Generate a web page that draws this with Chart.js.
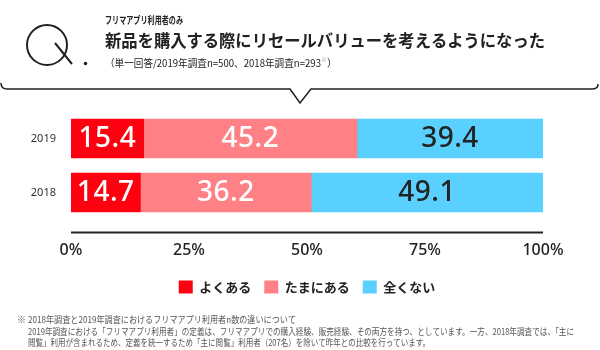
<!DOCTYPE html>
<html lang="ja">
<head>
<meta charset="utf-8">
<script src="https://cdn.jsdelivr.net/npm/chart.js@4.4.1/dist/chart.umd.min.js"></script>
<style>
    html, body { margin: 0; padding: 0; background: #fff; }
    #wrap { width: 600px; height: 350px; position: relative; }
</style>
</head>
<body>
<div id="wrap"><canvas id="resaleChart"></canvas></div>
<script>
const years = ['2019', '2018'];
const often = [15.4, 14.7];
const sometimes = [45.2, 36.2];
const never = [39.4, 49.1];
const seriesNames = ['よくある', 'たまにある', '全くない'];
const xTicks = [0, 25, 50, 75, 100];

const JP = '"Noto Sans CJK JP", "Noto Sans", sans-serif';
const NUM = '"Noto Sans", "DejaVu Sans", sans-serif';
const INK = '#222';

const footnotes = [
    '2018年調査と2019年調査におけるフリマアプリ利用者n数の違いについて',
    '2019年調査における「フリマアプリ利用者」の定義は、フリマアプリでの購入経験、販売経験、その両方を持つ、としています。一方、2018年調査では、「主に',
    '閲覧」利用が含まれるため、定義を統一するため「主に閲覧」利用者（207名）を除いて昨年との比較を行っています。',
];

// header bubble, Q mark, footnote text
const decorPlugin = {
    id: 'decor',
    beforeDraw(chart) {
        const ctx = chart.ctx;
        ctx.save();
        ctx.strokeStyle = INK;
        ctx.fillStyle = INK;

        // Q.
        ctx.lineWidth = 2;
        ctx.beginPath();
        ctx.arc(47, 45, 20, 0, Math.PI * 2);
        ctx.stroke();
        ctx.beginPath();
        ctx.moveTo(55, 43);
        ctx.lineTo(72, 64);
        ctx.stroke();
        ctx.beginPath();
        ctx.arc(85.5, 63.5, 1.8, 0, Math.PI * 2);
        ctx.fill();

        // speech bubble bottom edge
        ctx.lineWidth = 1.5;
        ctx.beginPath();
        ctx.moveTo(1, 83);
        ctx.quadraticCurveTo(1, 89, 7, 89);
        ctx.lineTo(290, 89);
        ctx.lineTo(300, 103);
        ctx.lineTo(311, 89);
        ctx.lineTo(592, 89);
        ctx.quadraticCurveTo(598, 89, 598, 84);
        ctx.stroke();

        ctx.textBaseline = 'middle';
        ctx.textAlign = 'left';
        ctx.font = 'bold 10px ' + JP;
        ctx.fillText('フリマアプリ利用者のみ', 105, 20, 78);
        ctx.font = 'bold 17px ' + JP;
        ctx.fillText('新品を購入する際にリセールバリューを考えるようになった', 105, 41, 440);
        ctx.font = '10px ' + JP;
        const sub = '（単一回答/2019年調査n=500、2018年調査n=293';
        ctx.fillText(sub, 105, 63, 216);
        const subW = Math.min(ctx.measureText(sub).width, 216);
        ctx.fillStyle = '#999';
        ctx.font = '6px ' + JP;
        ctx.fillText('※', 105 + subW, 60);
        ctx.fillStyle = INK;
        ctx.font = '10px ' + JP;
        ctx.fillText('）', 105 + subW + 6, 63);

        // footnote
        ctx.fillStyle = '#555';
        ctx.font = '9px ' + JP;
        ctx.fillText('※', 17, 320);
        ctx.fillText(footnotes[0], 28, 320, 268);
        ctx.fillText(footnotes[1], 28, 332, 546);
        ctx.fillText(footnotes[2], 28, 343, 402);
        ctx.restore();
    },
    afterDraw(chart) {
        // axis rule below the bars
        const {ctx, chartArea} = chart;
        const y = chart.scales.x.top + 13;
        ctx.save();
        ctx.strokeStyle = INK;
        ctx.lineWidth = 2;
        ctx.beginPath();
        ctx.moveTo(chartArea.left, y);
        ctx.lineTo(chartArea.right, y);
        ctx.stroke();
        ctx.restore();
    },
};

// value labels inside each segment
const valueLabels = {
    id: 'valueLabels',
    afterDatasetsDraw(chart) {
        const ctx = chart.ctx;
        ctx.save();
        ctx.font = '500 28px ' + NUM;
        ctx.textAlign = 'center';
        ctx.textBaseline = 'middle';
        if ('letterSpacing' in ctx) ctx.letterSpacing = '0.5px';
        chart.data.datasets.forEach((ds, i) => {
            chart.getDatasetMeta(i).data.forEach((bar, j) => {
                ctx.fillStyle = i === 2 ? INK : '#fff';
                ctx.fillText(ds.data[j].toFixed(1), (bar.x + bar.base) / 2, bar.y + 1);
            });
        });
        ctx.restore();
    },
};

new Chart(document.getElementById('resaleChart'), {
    type: 'bar',
    data: {
        labels: years,
        datasets: [
            { label: seriesNames[0], data: often, backgroundColor: '#ff0010' },
            { label: seriesNames[1], data: sometimes, backgroundColor: '#ff8185' },
            { label: seriesNames[2], data: never, backgroundColor: '#5ad0ff' },
        ],
    },
    options: {
        indexAxis: 'y',
        responsive: true,
        maintainAspectRatio: false,
        animation: false,
        barThickness: 39,
        borderWidth: 0,
        layout: { padding: { top: 111.5, right: 57, bottom: 46.5, left: 0 } },
        scales: {
            x: {
                stacked: true,
                min: 0,
                max: 100,
                afterBuildTicks: (scale) => { scale.ticks = xTicks.map((v) => ({ value: v })); },
                afterFit: (scale) => { scale.height = 48; },
                grid: { display: false, drawTicks: false },
                border: { display: false },
                ticks: {
                    padding: 21,
                    color: INK,
                    font: { family: NUM, size: 16, weight: '500' },
                    callback: (v) => v + '%',
                },
            },
            y: {
                stacked: true,
                afterFit: (scale) => { scale.width = 71; },
                grid: { display: false, drawTicks: false },
                border: { display: false },
                ticks: { padding: 15, color: '#333', font: { family: NUM, size: 11 } },
            },
        },
        plugins: {
            legend: {
                position: 'bottom',
                fullSize: false,
                labels: {
                    boxWidth: 14,
                    boxHeight: 13,
                    padding: 13,
                    color: INK,
                    font: { family: JP, size: 13, weight: 'bold' },
                },
            },
            tooltip: { enabled: false },
        },
    },
    plugins: [decorPlugin, valueLabels],
});
</script>
</body>
</html>
